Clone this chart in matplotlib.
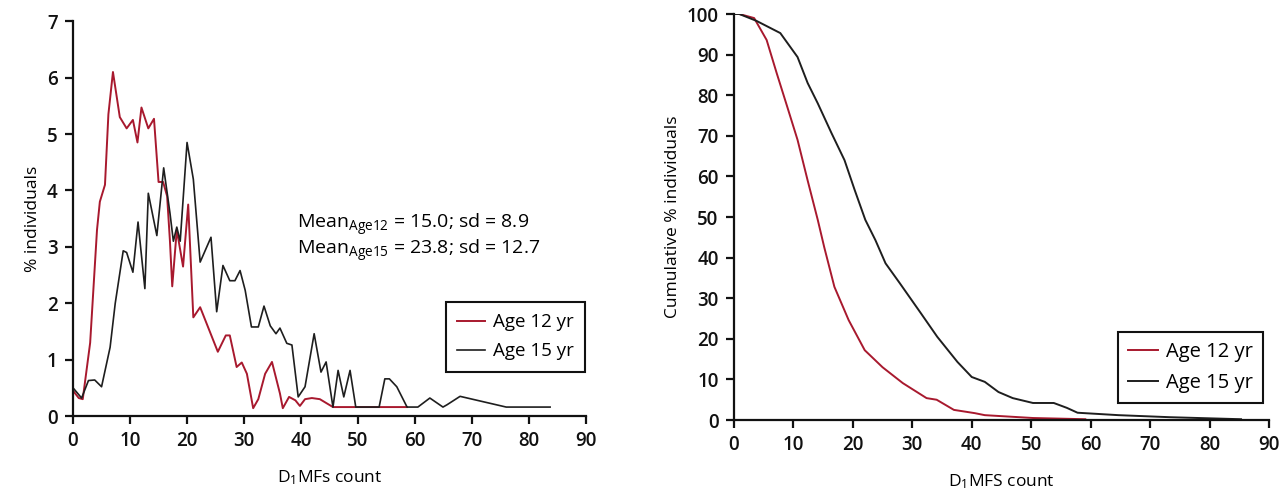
import matplotlib
matplotlib.use("Agg")
from matplotlib import pyplot as plt

plt.rcParams['font.family'] = ['Open Sans', 'DejaVu Sans']
plt.rcParams['mathtext.fontset'] = 'custom'
plt.rcParams['mathtext.rm'] = 'Open Sans'
plt.rcParams['mathtext.it'] = 'Open Sans'

# left panel: % individuals by D1MFs count
x_age12 = [0, 1, 1.7, 3, 4.2, 4.7, 5.6, 6.2, 7, 8.2, 9.4, 10.5, 11.3, 12, 13.2, 14.2, 15, 15.8,
           16.5, 17, 17.4, 18.2, 19.3, 20.2, 21.1, 22.3, 25.4, 26.8, 27.5, 28.7, 29.6, 30.5, 31.6,
           32.5, 33.7, 34.9, 36.3, 36.8, 37.9, 39, 39.8, 40.7, 41.9, 43.3, 45.6, 58.6]
y_age12 = [0.45, 0.32, 0.3, 1.3, 3.3, 3.8, 4.1, 5.35, 6.1, 5.3, 5.1, 5.25, 4.85, 5.47, 5.1, 5.27,
           4.15, 4.15, 3.9, 3.1, 2.3, 3.3, 2.65, 3.75, 1.75, 1.93, 1.14, 1.43, 1.43, 0.87, 0.95,
           0.75, 0.14, 0.3, 0.75, 0.96, 0.4, 0.14, 0.34, 0.28, 0.18, 0.3, 0.32, 0.3, 0.16, 0.16]

x_age15 = [0, 1.5, 2.7, 3.8, 5, 6.5, 7.4, 8.8, 9.4, 10.5, 11.4, 12.6, 13.2, 14.7, 15.9, 17, 17.6,
           18.2, 18.8, 20, 21.1, 22.3, 24.2, 25.2, 26.3, 27.5, 28.4, 29.3, 30.2, 31.3, 32.5, 33.5,
           34.6, 35.6, 36.3, 37.5, 38.4, 39.5, 40.7, 42.3, 43.5, 44.4, 45.6, 46.5, 47.5, 48.6,
           49.6, 53.7, 54.7, 55.5, 56.8, 58.6, 60.5, 62.6, 64.9, 65.6, 67.9, 76, 83.7]
y_age15 = [0.5, 0.32, 0.63, 0.64, 0.52, 1.22, 2.0, 2.93, 2.9, 2.55, 3.44, 2.26, 3.95, 3.2, 4.4,
           3.6, 3.1, 3.35, 3.1, 4.85, 4.2, 2.73, 3.17, 1.85, 2.67, 2.4, 2.4, 2.58, 2.23, 1.58,
           1.58, 1.95, 1.6, 1.46, 1.56, 1.29, 1.26, 0.34, 0.52, 1.46, 0.78, 0.96, 0.16, 0.81,
           0.34, 0.81, 0.16, 0.16, 0.66, 0.66, 0.52, 0.16, 0.16, 0.32, 0.16, 0.2, 0.35, 0.16, 0.16]

# right panel: cumulative %
cx_age12 = [0, 0.9, 3.4, 5.5, 7.2, 9, 10.7, 12.4, 14.1, 15.2, 16.9, 19.3, 22, 25, 28.4, 32.4,
            34.1, 37, 40.5, 42.2, 50.3, 59.1]
cy_age12 = [100, 100, 99, 93.6, 85.4, 77, 69, 59, 49.3, 42.5, 32.8, 24.6, 17.2, 13, 9.1, 5.4,
            5.0, 2.5, 1.7, 1.2, 0.5, 0.2]
cx_age15 = [0, 0.9, 3.8, 7.8, 10.7, 12.4, 14.1, 16.4, 18.6, 20.3, 22.1, 23.8, 25.5, 27.9, 31.4,
            34.2, 37.6, 40, 42.2, 44.5, 46.9, 50.3, 53.8, 56, 57.8, 64.7, 73.3, 85.3]
cy_age15 = [100, 100, 98.3, 95.3, 89.4, 83, 78, 70.7, 64, 56.7, 49.3, 44.3, 38.6, 33.7, 26.4,
            20.5, 14.3, 10.6, 9.4, 6.9, 5.4, 4.2, 4.2, 3, 1.8, 1.2, 0.7, 0.2]

series_labels = ["Age 12 yr", "Age 15 yr"]
red = '#a8192e'
dark = '#1e1e1e'

fig = plt.figure(figsize=(12.84, 4.93), dpi=100)
ax1 = fig.add_axes([0.0569, 0.156, 0.3995, 0.801])
ax2 = fig.add_axes([0.5716, 0.148, 0.4167, 0.8236])


def style_axes(ax):
    for side in ['top', 'right']:
        ax.spines[side].set_visible(False)
    for side in ['left', 'bottom']:
        ax.spines[side].set_linewidth(1.6)
        ax.spines[side].set_color('#111111')
    ax.tick_params(direction='out', length=6, width=1.6, labelsize=13.5, colors='#111111', pad=5)
    for lbl in ax.get_xticklabels() + ax.get_yticklabels():
        lbl.set_fontweight('semibold')
    ax.set_xlim(0, 90)


style_axes(ax1)
ax1.plot(x_age12, y_age12, color=red, lw=1.4, label=series_labels[0])
ax1.plot(x_age15, y_age15, color=dark, lw=1.2, label=series_labels[1])
ax1.set_ylim(0, 7)
ax1.set_yticks(range(0, 8))
ax1.set_xticks(range(0, 91, 10))
for lbl in ax1.get_xticklabels() + ax1.get_yticklabels():
    lbl.set_fontweight('semibold')
ax1.set_ylabel("% individuals", fontsize=12.5, fontweight='medium')
ax1.set_xlabel("D$_{1}$MFs count", fontsize=12.5, fontweight='medium', labelpad=12)
ax1.text(39.3, 3.62, "Mean$_{\\mathrm{Age12}}$ = 15.0; sd = 8.9\nMean$_{\\mathrm{Age15}}$ = 23.8; sd = 12.7",
         fontsize=14, fontweight='medium', va='top', ha='left', linespacing=1.0)
leg1 = ax1.legend(loc='upper right', bbox_to_anchor=(0.998, 0.289),
                  prop={'size': 13.5, 'weight': 'medium'},
                  fancybox=False, framealpha=1, edgecolor='#111111', handlelength=1.5,
                  handletextpad=0.4, borderpad=0.6, labelspacing=0.6, borderaxespad=0)
leg1.get_frame().set_linewidth(1.5)

style_axes(ax2)
ax2.plot(cx_age12, cy_age12, color=red, lw=1.4, label=series_labels[0])
ax2.plot(cx_age15, cy_age15, color=dark, lw=1.4, label=series_labels[1])
ax2.set_ylim(0, 100)
ax2.set_yticks(range(0, 101, 10))
ax2.set_xticks(range(0, 91, 10))
for lbl in ax2.get_xticklabels() + ax2.get_yticklabels():
    lbl.set_fontweight('semibold')
ax2.set_ylabel("Cumulative % individuals", fontsize=12.5, fontweight='medium')
ax2.set_xlabel("D$_{1}$MFS count", fontsize=12.5, fontweight='medium', labelpad=12)
leg2 = ax2.legend(loc='lower right', bbox_to_anchor=(0.989, 0.042),
                  prop={'size': 14.5, 'weight': 'medium'},
                  fancybox=False, framealpha=1, edgecolor='#111111', handlelength=1.5,
                  handletextpad=0.4, borderpad=0.5, labelspacing=0.55, borderaxespad=0)
leg2.get_frame().set_linewidth(1.5)

fig.savefig("out.png", dpi=100)
